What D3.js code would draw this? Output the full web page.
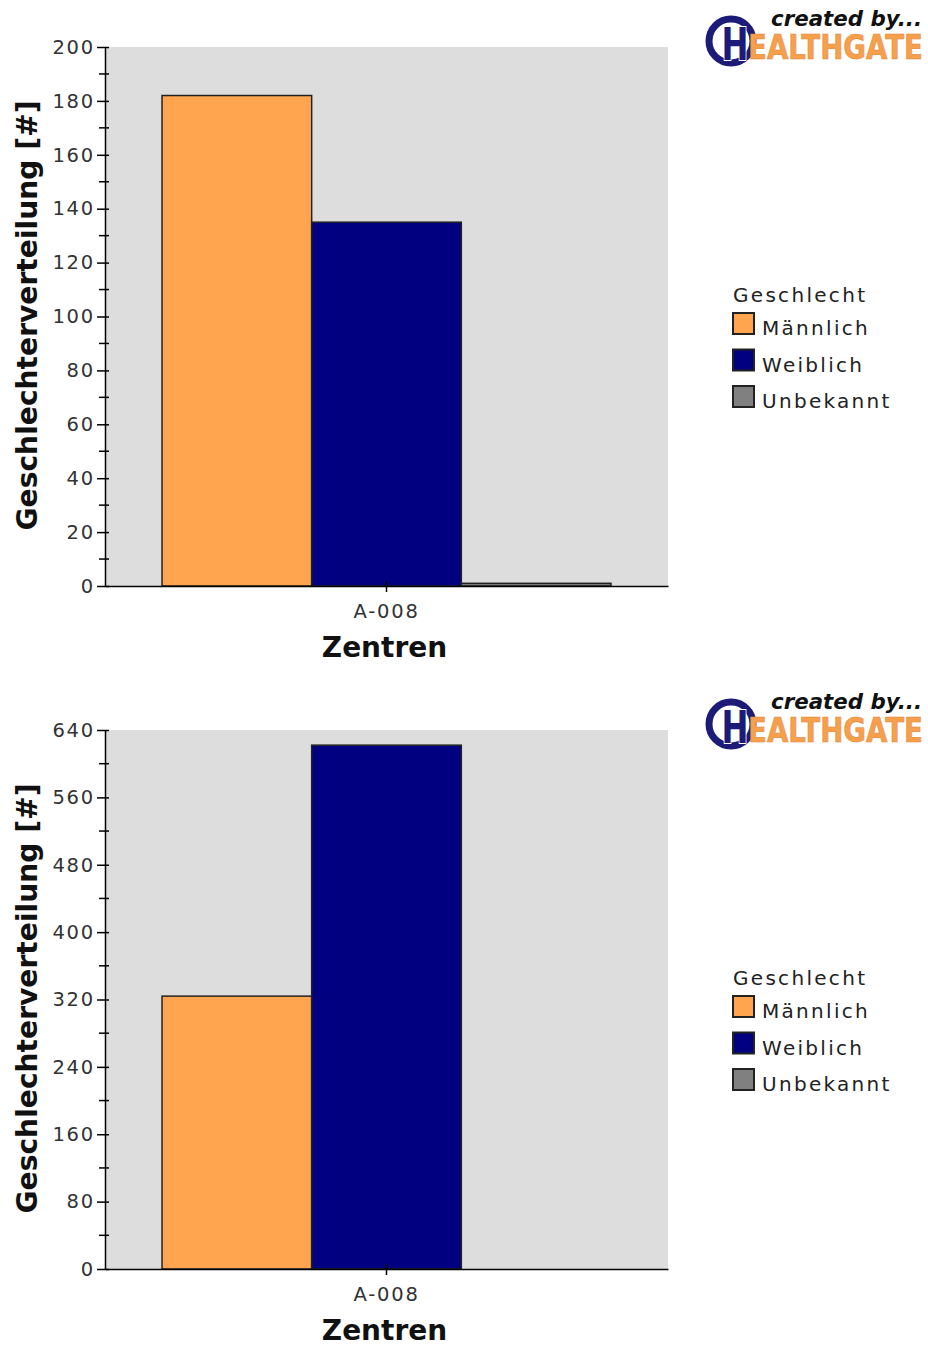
<!DOCTYPE html>
<html>
<head>
<meta charset="utf-8">
<script src="https://cdn.jsdelivr.net/npm/d3@7"></script>
<style>
  html, body { margin: 0; padding: 0; background: #fff; }
  svg { display: block; }
  .tick-label { font-family: "DejaVu Sans", sans-serif; font-size: 19.5px; letter-spacing: 1.8px; fill: #333; }
  .axis-title { font-family: "DejaVu Sans", sans-serif; font-size: 28px; font-weight: bold; fill: #111; }
  .legend-text { font-family: "DejaVu Sans", sans-serif; font-size: 20px; letter-spacing: 2.3px; fill: #222; }
</style>
</head>
<body>
<svg id="chart" width="928" height="1347"></svg>
<script>
// Data
const categories = ["A-008"];
const seriesNames = ["Männlich", "Weiblich", "Unbekannt"];
const seriesColors = ["#FFA54F", "#000080", "#808080"];
const panel1Values = [182, 135, 1];
const panel2Values = [324, 622, 0];
const panel1Ticks = [0, 20, 40, 60, 80, 100, 120, 140, 160, 180, 200];
const panel1Minor = [10, 30, 50, 70, 90, 110, 130, 150, 170, 190];
const panel2Ticks = [0, 80, 160, 240, 320, 400, 480, 560, 640];
const panel2Minor = [40, 120, 200, 280, 360, 440, 520, 600];
const legendTitle = "Geschlecht";
const xTitle = "Zentren";
const yTitle = "Geschlechterverteilung [#]";

const panels = [
  { values: panel1Values, ticks: panel1Ticks, minor: panel1Minor },
  { values: panel2Values, ticks: panel2Ticks, minor: panel2Minor }
];

const svg = d3.select("#chart");
const plot = { left: 105, right: 668, top: 47, bottom: 586 };
const panelOffset = 683;

// "created by... HEALTHGATE" badge in the top-right corner of each panel
function drawLogo(g) {
  g.append("circle").attr("cx", 731).attr("cy", 41).attr("r", 22)
    .attr("fill", "#fff").attr("stroke", "#1c1c78").attr("stroke-width", 7);
  g.append("text").attr("x", 748).attr("y", 59)
    .attr("font-family", "DejaVu Sans, sans-serif").attr("font-weight", "bold")
    .attr("font-size", 33).attr("fill", "#F6A04D")
    .attr("stroke", "#e08a3a").attr("stroke-width", 0.6)
    .attr("textLength", 175).attr("lengthAdjust", "spacingAndGlyphs")
    .text("EALTHGATE");
  g.append("text").attr("x", 735).attr("y", 60).attr("text-anchor", "middle")
    .attr("font-family", "DejaVu Sans, sans-serif").attr("font-weight", "bold")
    .attr("font-size", 44).attr("fill", "#1c1c78")
    .attr("stroke", "#fff").attr("stroke-width", 2).attr("paint-order", "stroke")
    .attr("textLength", 27).attr("lengthAdjust", "spacingAndGlyphs")
    .text("H");
  g.append("text").attr("x", 771).attr("y", 26)
    .attr("font-family", "DejaVu Sans, sans-serif").attr("font-weight", "bold")
    .attr("font-style", "italic").attr("font-size", 22).attr("fill", "#111")
    .attr("textLength", 151).attr("lengthAdjust", "spacingAndGlyphs")
    .text("created by...");
}

panels.forEach((p, i) => {
  const g = svg.append("g").attr("transform", `translate(0,${i * panelOffset})`);
  const yMax = p.ticks[p.ticks.length - 1];

  const x0 = d3.scaleBand().domain(categories).range([plot.left, plot.right])
    .paddingInner(0).paddingOuter(0.127);
  const x1 = d3.scaleBand().domain(seriesNames).range([0, x0.bandwidth()]).padding(0);
  const y = d3.scaleLinear().domain([0, yMax]).range([plot.bottom, plot.top]);

  // plot background
  g.append("rect").attr("x", plot.left).attr("y", plot.top)
    .attr("width", plot.right - plot.left).attr("height", plot.bottom - plot.top)
    .attr("fill", "#DDDDDD");

  // bars (zero values are not drawn)
  categories.forEach(cat => {
    const bars = seriesNames.map((s, k) => ({ s, k, v: p.values[k] })).filter(d => d.v > 0);
    g.selectAll(null).data(bars).enter().append("rect")
      .attr("x", d => x0(cat) + x1(d.s))
      .attr("y", d => y(d.v))
      .attr("width", x1.bandwidth())
      .attr("height", d => y(0) - y(d.v))
      .attr("fill", d => seriesColors[d.k])
      .attr("stroke", "#222").attr("stroke-width", 1.5);
  });

  // y axis with major and minor ticks
  const yAxis = g.append("g").attr("transform", `translate(${plot.left},0)`)
    .call(d3.axisLeft(y).tickValues(p.ticks).tickSize(0).tickPadding(10).tickFormat(d3.format("d")));
  yAxis.select(".domain").attr("stroke", "#000").attr("stroke-width", 1.5);
  yAxis.selectAll(".tick text").attr("class", "tick-label").attr("fill", null)
    .attr("font-size", null).attr("font-family", null);
  yAxis.selectAll(".tick").append("line").attr("x1", -8).attr("x2", 4)
    .attr("stroke", "#000").attr("stroke-width", 1.5);
  yAxis.selectAll(".minor").data(p.minor).enter().append("line")
    .attr("x1", -6).attr("x2", 4).attr("y1", d => y(d)).attr("y2", d => y(d))
    .attr("stroke", "#000").attr("stroke-width", 1.5);

  // x axis
  const xAxis = g.append("g").attr("transform", `translate(0,${plot.bottom})`)
    .call(d3.axisBottom(x0).tickSize(0).tickPadding(14));
  xAxis.select(".domain").attr("stroke", "#000").attr("stroke-width", 1.5);
  xAxis.selectAll(".tick text").attr("class", "tick-label").attr("fill", null)
    .attr("font-size", null).attr("font-family", null).attr("dy", "0.9em");
  xAxis.selectAll(".tick").append("line").attr("y1", -5).attr("y2", 6)
    .attr("stroke", "#000").attr("stroke-width", 1.5);

  // axis titles
  g.append("text").attr("class", "axis-title")
    .attr("x", (plot.left + plot.right) / 2 - 2).attr("y", 657)
    .attr("text-anchor", "middle").text(xTitle);
  g.append("text").attr("class", "axis-title")
    .attr("transform", `translate(37,${(plot.top + plot.bottom) / 2 - 1}) rotate(-90)`)
    .attr("text-anchor", "middle")
    .attr("textLength", 430).attr("lengthAdjust", "spacingAndGlyphs")
    .text(yTitle);

  // legend
  const lg = g.append("g").attr("transform", "translate(733,0)");
  lg.append("text").attr("class", "legend-text").attr("x", 0).attr("y", 302).text(legendTitle);
  const items = lg.selectAll(".item").data(seriesNames).enter().append("g")
    .attr("transform", (d, k) => `translate(0,${313 + k * 36.5})`);
  items.append("rect").attr("width", 21).attr("height", 21)
    .attr("fill", (d, k) => seriesColors[k]).attr("stroke", "#222").attr("stroke-width", 2);
  items.append("text").attr("class", "legend-text").attr("x", 29).attr("y", 22).text(d => d);

  drawLogo(g.append("g"));
});
</script>
</body>
</html>
